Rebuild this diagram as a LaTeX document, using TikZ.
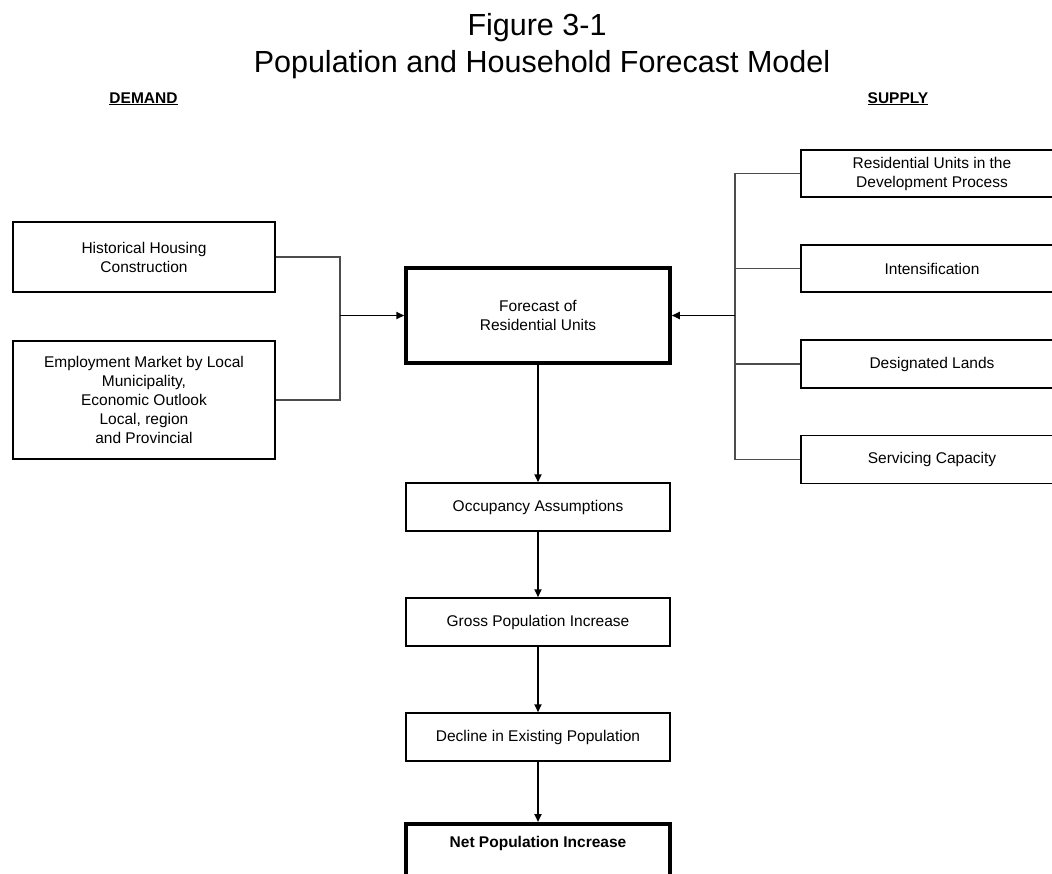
\documentclass[tikz,border=0pt]{standalone}
\usepackage{fontspec}
\setmainfont{Liberation Sans}
\usetikzlibrary{arrows.meta}
\newcommand{\bxfont}{\fontsize{15.5}{19}\selectfont}
\tikzset{
  box/.style={draw=black, line width=1.5pt, minimum width=264pt, inner sep=0pt, align=center, font=\bxfont},
  thickbox/.style={box, line width=3.5pt},
  conn/.style={draw=black!70, line width=1.3pt},
  arr/.style={draw=black, line width=1.8pt, -{Triangle[length=8pt,width=7pt]}},
}
\begin{document}
\begin{tikzpicture}[x=1pt,y=-1pt]
\useasboundingbox (0,0) rectangle (1052,873);
\clip (0,0) rectangle (1052,873);
\fill[white] (0,0) rectangle (1052,873);
% titles
\node[anchor=base, font=\fontsize{30.5}{36}\selectfont, inner sep=0pt] (t1) at (537,35) {Figure 3-1};
\node[anchor=base, font=\fontsize{30.5}{36}\selectfont, inner sep=0pt] (t2) at (542,72) {Population and Household Forecast Model};
\node[anchor=base, font=\fontsize{15.5}{18}\selectfont\bfseries, inner sep=0pt] (dem) at (143.5,103) {\underline{DEMAND}};
\node[anchor=base, font=\fontsize{15.5}{18}\selectfont\bfseries, inner sep=0pt] (sup) at (898,103) {\underline{SUPPLY}};
% left boxes
\node[box, minimum width=262pt, minimum height=70pt] (hist) at (144,257) {Historical Housing\\Construction};
\node[box, minimum width=262pt, minimum height=118pt] (emp) at (144,400) {Employment Market by Local\\Municipality,\\Economic Outlook\\Local, region\\and Provincial};
% centre
\node[thickbox, minimum height=95pt] (fore) at (538,315.5) {Forecast of\\Residential Units};
\node[box, minimum height=48pt] (occ) at (538,507) {Occupancy Assumptions};
\node[box, minimum height=48pt] (gross) at (538,622) {Gross Population Increase};
\node[box, minimum height=48pt] (decl) at (538,737) {Decline in Existing Population};
\node[thickbox, anchor=north, minimum height=95pt, text height=11pt, text depth=60pt, inner ysep=13pt] (net) at (538,822) {\bfseries Net Population Increase};
% right boxes
\node[box, minimum width=262pt, minimum height=47pt] (r1) at (932,173.5) {Residential Units in the\\Development Process};
\node[box, minimum width=262pt, minimum height=47pt] (r2) at (932,268.5) {Intensification};
\node[box, minimum width=262pt, minimum height=48pt] (r3) at (932,364) {Designated Lands};
\node[box, minimum width=262pt, minimum height=48pt] (r4) at (932,459.5) {Servicing Capacity};
% junctions
\coordinate (jl) at (340,315.5);
\coordinate (jr) at (735,315.5);
% left connectors
\draw[conn] (hist.east) -| (jl);
\draw[conn] (emp.east) -| (jl);
\draw[arr] (jl) -- (fore.west);
% right connectors
\draw[conn] (r1.west) -| (jr);
\draw[conn] (r4.west) -| (jr);
\draw[conn] (r2.west) -- (r2.west -| jr);
\draw[conn] (r3.west) -- (r3.west -| jr);
\draw[arr] (jr) -- (fore.east);
% vertical chain
\draw[arr] (fore.south) -- (occ.north);
\draw[arr] (occ.south) -- (gross.north);
\draw[arr] (gross.south) -- (decl.north);
\draw[arr] (decl.south) -- (net.north);
\end{tikzpicture}
\end{document}
